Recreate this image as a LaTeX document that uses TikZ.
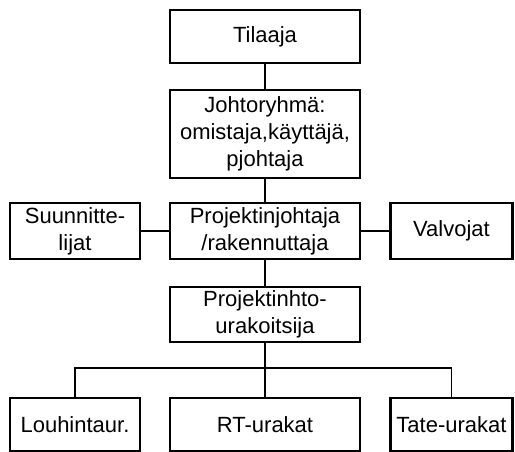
\documentclass[tikz,border=0pt]{standalone}
\usepackage{fontspec}
\setmainfont{Liberation Sans}
\tikzset{
  laatikko/.style={draw, line width=2.6pt, align=center, inner sep=0pt,
    font=\fontsize{22}{27}\selectfont},
  viiva/.style={line width=1.2pt}
}
\begin{document}
\begin{tikzpicture}[x=1pt,y=-1pt]
            \useasboundingbox (0,0) rectangle (515,452);
            \node [laatikko,minimum width=190,minimum height=53] (tilaaja) at (265,36.5) {Tilaaja};
            \node [laatikko,minimum width=190,minimum height=88] (johto) at (265,134) {Johtoryhmä:\\omistaja,käyttäjä,\\pjohtaja};
            \node [laatikko,minimum width=130,minimum height=56] (suun) at (75,231) {Suunnitte-\\lijat};
            \node [laatikko,minimum width=190,minimum height=56] (pjohtaja) at (265,231) {Projektinjohtaja\\/rakennuttaja};
            \node [laatikko,minimum width=122,minimum height=56] (valvojat) at (451.5,231) {Valvojat};
            \node [laatikko,minimum width=190,minimum height=55] (urakoitsija) at (265,314.5) {Projektinhto-\\urakoitsija};
            \node [laatikko,minimum width=130,minimum height=53] (louhinta) at (75,424.5) {Louhintaur.};
            \node [laatikko,minimum width=190,minimum height=53] (rt) at (265,424.5) {RT-urakat};
            \node [laatikko,minimum width=122,minimum height=53] (tate) at (451.5,424.5) {Tate-urakat};
            \coordinate (vaaka) at (265,368);
            \draw [viiva] (tilaaja) -- (johto);
            \draw [viiva] (johto) -- (pjohtaja);
            \draw [viiva] (suun) -- (pjohtaja);
            \draw [viiva] (pjohtaja) -- (valvojat);
            \draw [viiva] (pjohtaja) -- (urakoitsija);
            \draw [viiva] (urakoitsija) -- (rt);
            % yhteinen vaakaviiva urakoille
            \draw [viiva] (louhinta.north) |- (vaaka) -| (tate.north);
        \end{tikzpicture}
\end{document}
